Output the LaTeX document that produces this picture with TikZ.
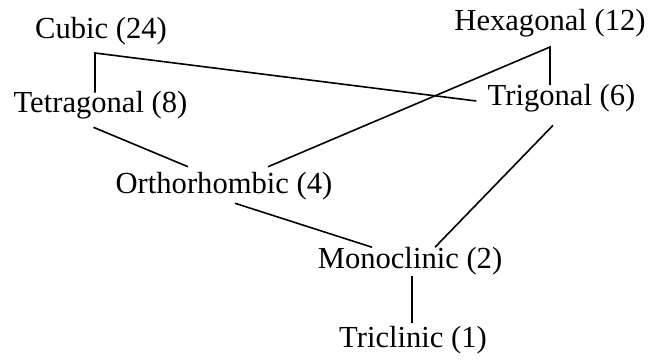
\documentclass[tikz,border=0pt]{standalone}
\usepackage{fontspec}
\setmainfont{Liberation Serif}
\begin{document}
\begin{tikzpicture}[x=0.5pt, y=-0.5pt]
	\tikzstyle{system} = [inner sep=0pt, font={\fontsize{15.3}{18}\selectfont}];
	\tikzstyle{edge} = [draw, line width=0.8pt];

	\useasboundingbox (0,0) rectangle (652,360);

	% crystal systems
	\node[system] (cub)  at (101,31.5)   {Cubic (24)};
	\node[system] (hex)  at (550,23)     {Hexagonal (12)};
	\node[system] (tet)  at (100.5,105)  {Tetragonal (8)};
	\node[system] (tri)  at (561.5,98.5) {Trigonal (6)};
	\node[system] (orth) at (224,186.5)  {Orthorhombic (4)};
	\node[system] (mono) at (410,261.5)  {Monoclinic (2)};
	\node[system] (tric) at (413,340)    {Triclinic (1)};

	\coordinate (cubj) at (95,53);
	\coordinate (hexj) at (550,47);

	% subgroup links
	\draw[edge] ([yshift=-1pt]tet.north -| cubj) -- (cubj) -- ([xshift=-5.5pt, yshift=-1.25pt]tri.west);
	\draw[edge] ([yshift=-0.5pt]tri.north -| hexj) -- (hexj) -- ([xshift=22pt, yshift=2.75pt]orth.north);
	\draw[edge] ([xshift=-3.5pt, yshift=-4pt]tet.south) -- ([xshift=-18pt, yshift=2.75pt]orth.north);
	\draw[edge] ([xshift=5.5pt, yshift=-1.25pt]orth.south) -- ([xshift=-19pt]mono.north);
	\draw[edge] ([xshift=-4.25pt, yshift=-6.25pt]tri.south) -- ([xshift=12.5pt]mono.north);
	\draw[edge] ([xshift=1pt]mono.south) -- ([xshift=1pt, yshift=1.5pt]mono.south |- tric.north);
\end{tikzpicture}
\end{document}
